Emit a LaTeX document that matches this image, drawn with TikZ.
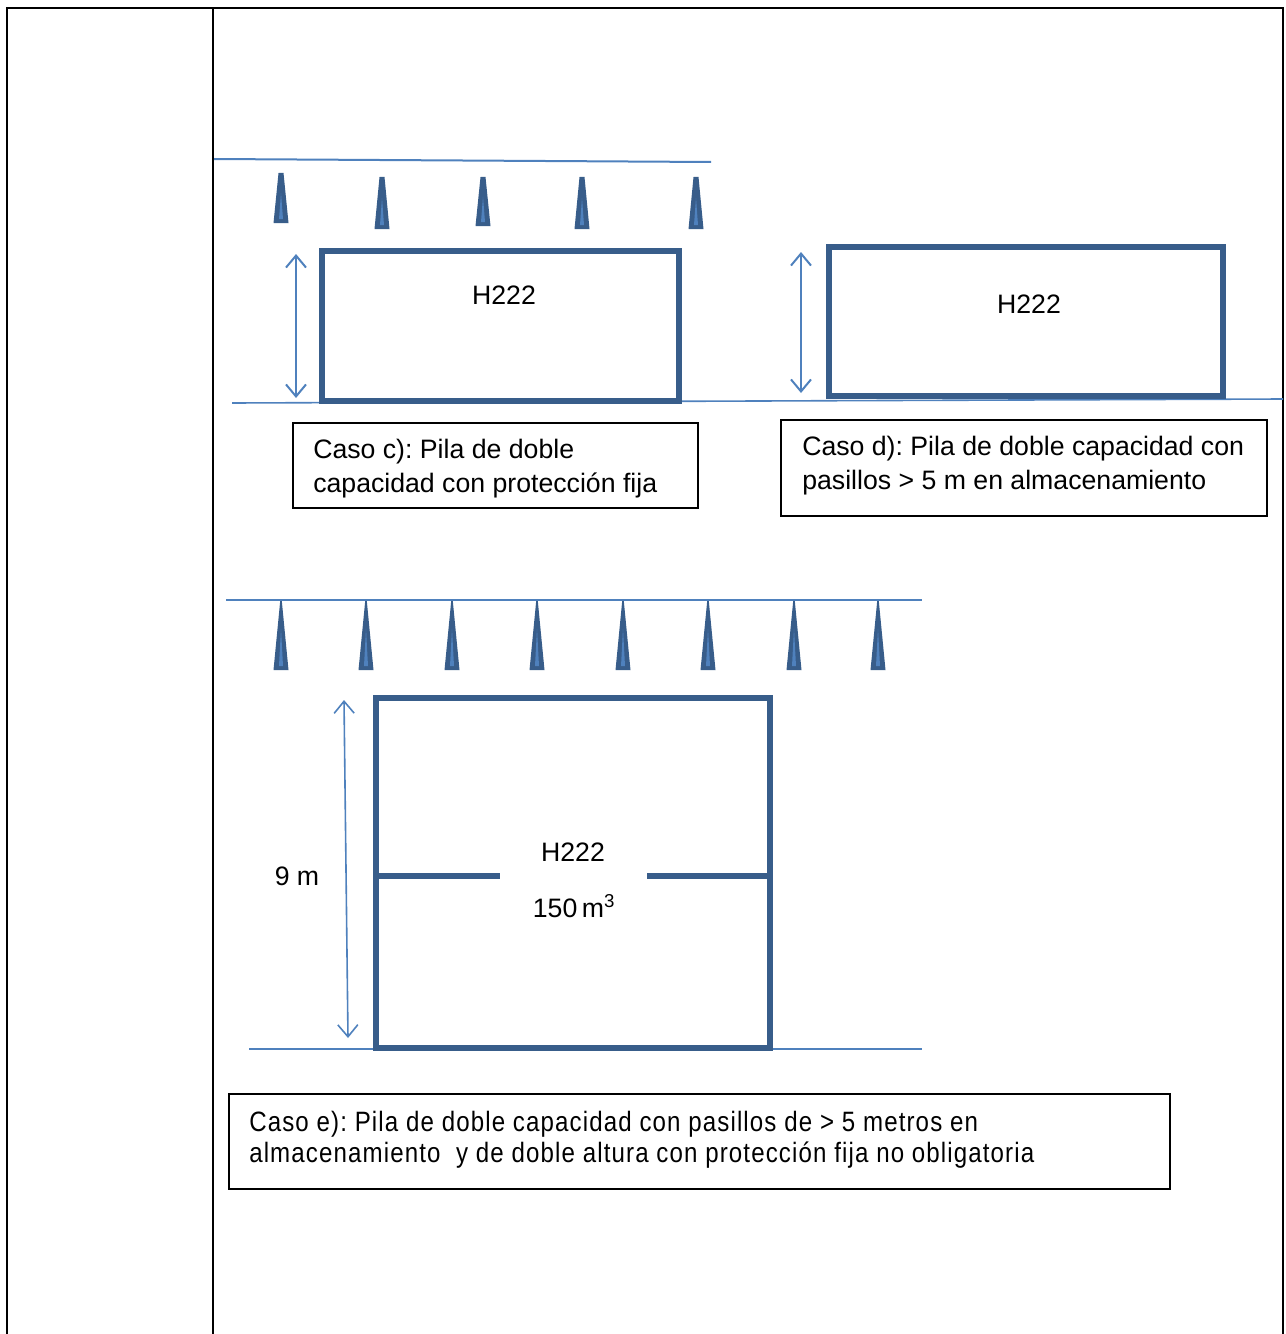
\documentclass[tikz,border=0pt]{standalone}
\usepackage{fontspec}
\setmainfont{Liberation Sans}
\newfontfamily\narrowfont[FakeStretch=0.86,LetterSpace=4]{Liberation Sans}
\usetikzlibrary{arrows.meta}
\definecolor{lineblue}{HTML}{4F81BD}
\definecolor{boxblue}{HTML}{385D8A}
\frenchspacing
\newcommand\sprk[4]{%
  \fill[boxblue] ({#1-#4},#2) -- ({#1+#4},#2) -- ({#1+7.5},#3) -- ({#1-7.5},#3) -- cycle;
  \fill[lineblue] (#1,{#2+(#3-#2)*0.4}) -- ({#1+2},{#3-4}) -- ({#1-2},{#3-4}) -- cycle;}
\begin{document}
\begin{tikzpicture}[x=0.75pt,y=-0.75pt,
  tablerule/.style={line width=1.6pt,black},
  pipe/.style={lineblue,line width=1.5pt},
  pile/.style={boxblue,line width=3.8pt},
  dim/.style={lineblue,line width=1.5pt,{Straight Barb[length=9pt,width=15pt]}-{Straight Barb[length=9pt,width=15pt]}},
  capbox/.style={draw=black,line width=0.8pt},
  lbl/.style={font=\fontsize{20}{26}\selectfont,inner sep=0pt},
  capt/.style={font=\fontsize{20}{26}\selectfont,inner sep=0pt,anchor=west,align=left},
  capte/.style={font=\narrowfont\fontsize{21}{23.25}\selectfont,inner sep=0pt,anchor=west,align=left},
]
\useasboundingbox (0,0) rectangle (1285,1334);
% table frame
\draw[tablerule] (7,1334) -- (7,8) -- (1283,8) -- (1283,1334);
\draw[tablerule] (213,8) -- (213,1334);

% ---------- case c ----------
\coordinate (pc1) at (214,159);
\coordinate (pc2) at (711,162);
\draw[pipe] (pc1) -- (pc2);
\sprk{281}{173}{223}{2.5}
\sprk{382}{177}{229}{2.5}
\sprk{483}{177}{226}{2.5}
\sprk{582}{177}{229}{2.5}
\sprk{696}{177}{229}{2.5}
\coordinate (g1) at (232,403);
\coordinate (g2) at (1283,399);
\draw[pipe,line width=1.2pt] (g1) -- (g2);
\draw[pile] (322,251) rectangle (679,401);
\node[lbl] (hc) at (504,295) {H222};
\coordinate (ac1) at (296,254);
\coordinate (ac2) at (296,398);
\draw[dim] (ac1) -- (ac2);
\draw[capbox] (293,423) rectangle (698,508);
\node[capt] (capc) at (313,468.5) {Caso c): Pila de doble\\capacidad con protección fija};

% ---------- case d ----------
\draw[pile] (829,247) rectangle (1223,396);
\node[lbl] (hd) at (1029,304) {H222};
\coordinate (ad1) at (801,252);
\coordinate (ad2) at (801,393);
\draw[dim] (ad1) -- (ad2);
\draw[capbox] (781,420) rectangle (1267,516);
\node[capt] (capd) at (802,465.5) {Caso d): Pila de doble capacidad con\\pasillos > 5 m en almacenamiento};

% ---------- case e ----------
\coordinate (pe1) at (226,600);
\coordinate (pe2) at (922,600);
\draw[pipe,line width=2pt] (pe1) -- (pe2);
\foreach \x in {281,366,452,537,623,708,794,878}{\sprk{\x}{601}{670}{0.8}}
\coordinate (ge1) at (249,1049);
\coordinate (ge2) at (922,1049);
\draw[pipe,line width=1.2pt] (ge1) -- (ge2);
\draw[pile] (376,698) rectangle (770,1048);
\draw[pile] (376,876) -- (500,876);
\draw[pile] (647,876) -- (770,876);
\node[lbl] (he) at (573,852) {H222};
\node[lbl] (vol) at (574,906) {150\,m\textsuperscript{3}};
\coordinate (ae1) at (344,700);
\coordinate (ae2) at (348,1038);
\draw[dim,line width=1.2pt] (ae1) -- (ae2);
\node[lbl] (nine) at (297,876) {9 m};
\draw[capbox,line width=1pt] (229,1094) rectangle (1170,1189);
\node[capte] (cape) at (249,1139.5) {Caso e): Pila de doble capacidad con pasillos de > 5 metros en\\almacenamiento\ \ y de doble altura con protección fija no obligatoria};
\end{tikzpicture}
\end{document}
